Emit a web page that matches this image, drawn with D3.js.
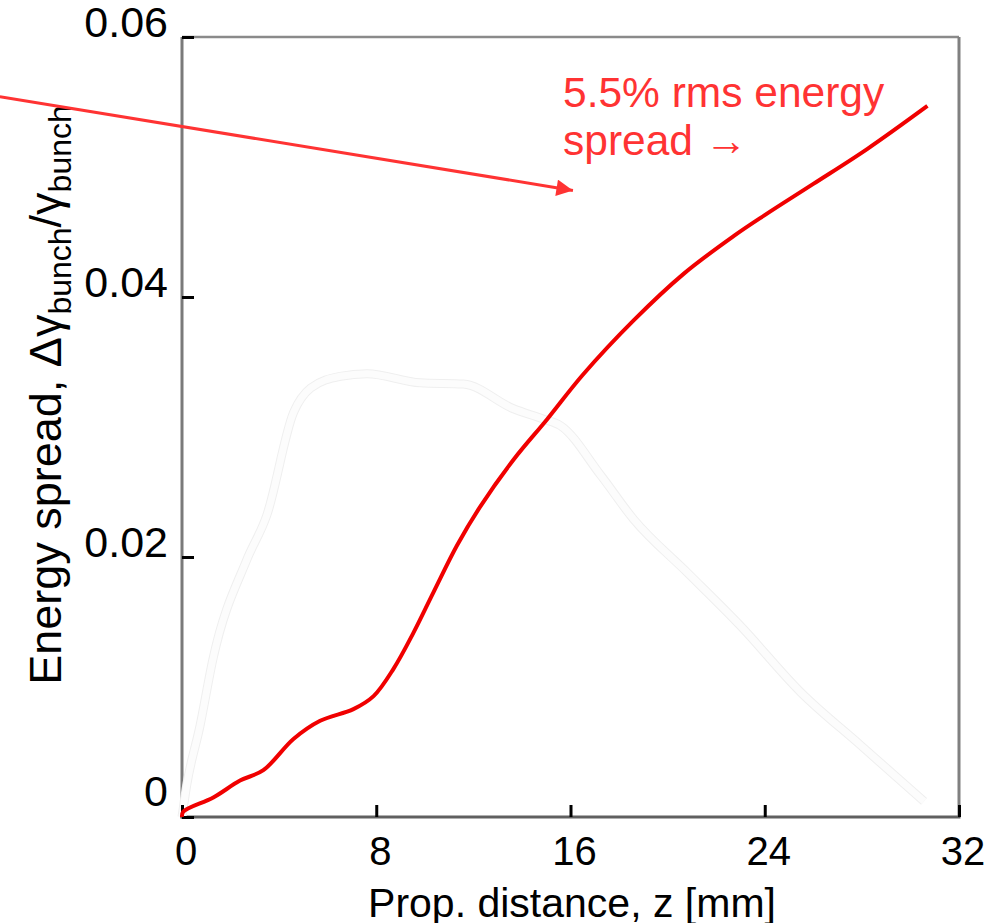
<!DOCTYPE html>
<html>
<head>
<meta charset="utf-8">
<script src="https://cdn.jsdelivr.net/npm/d3@7"></script>
<style>
  body { margin: 0; background: #fff; }
  text { font-family: "Liberation Sans", Arial, sans-serif; }
</style>
</head>
<body>
<div id="chart"></div>
<script>
var width = 986,
    height = 923;

// red curve: rms energy spread along the propagation distance
var zRed = [0, 0.05, 1.29, 2.39, 3.35, 4.59, 5.69, 7.06, 7.89, 8.71, 9.54, 10.36,
            11.33, 12.29, 13.66, 15.04, 16.5, 18.6, 20.67, 22.73, 24, 26, 28.23, 30.7];
var spreadRed = [0, 0.0004, 0.0015, 0.0028, 0.0036, 0.0060, 0.0074, 0.0083, 0.0093, 0.0114, 0.0142, 0.0173,
                 0.0209, 0.0239, 0.0275, 0.0306, 0.0340, 0.0382, 0.0418, 0.0447, 0.0463, 0.0487, 0.0514, 0.0547];

// faded curve in the background
var zGrey = [0, 0.19, 0.74, 1.28, 2.67, 3.49, 4.59, 5.3, 6.52, 7.62, 9.81, 11.59,
             13.65, 14.89, 15.59, 17.24, 18.6, 20.81, 23.0, 25.48, 27.96, 30.56];
var spreadGrey = [0, 0.0024, 0.0070, 0.0122, 0.0198, 0.0232, 0.0311, 0.0330, 0.0339, 0.0341, 0.0334, 0.0333,
                  0.0314, 0.0306, 0.0301, 0.0263, 0.0229, 0.0188, 0.0147, 0.0096, 0.0055, 0.0012];

var xTicks = [0, 8, 16, 24, 32];
var yTicks = [0, 0.02, 0.04, 0.06];
var yTickLabels = ["0", "0.02", "0.04", "0.06"];

var plotLeft = 182, plotRight = 959, plotTop = 37, plotBottom = 817;

var x = d3.scaleLinear().domain([0, 32]).range([plotLeft, plotRight]);
var y = d3.scaleLinear().domain([0, 0.06]).range([plotBottom, plotTop]);

var svg = d3.select("#chart")
    .append("svg")
    .attr("width", width)
    .attr("height", height);

svg.append("defs").append("marker")
    .attr("id", "head")
    .attr("viewBox", "0 0 10 10")
    .attr("refX", 10).attr("refY", 5)
    .attr("markerWidth", 6).attr("markerHeight", 5.5)
    .attr("markerUnits", "strokeWidth")
    .attr("orient", "auto")
    .append("path")
    .attr("d", "M0,0L10,5L0,10z")
    .style("fill", "#ff3333");

/** frame **/
svg.append("line").attr("x1", plotLeft).attr("x2", plotRight).attr("y1", plotTop).attr("y2", plotTop)
    .style("stroke", "#8a8a8a").style("stroke-width", 2.5);
svg.append("line").attr("x1", plotRight).attr("x2", plotRight).attr("y1", plotTop).attr("y2", plotBottom)
    .style("stroke", "#808080").style("stroke-width", 3);
svg.append("line").attr("x1", plotLeft).attr("x2", plotLeft).attr("y1", plotTop).attr("y2", plotBottom + 1.5)
    .style("stroke", "#7a7a7a").style("stroke-width", 3);
svg.append("line").attr("x1", plotLeft - 1.5).attr("x2", plotRight + 1.5).attr("y1", plotBottom).attr("y2", plotBottom)
    .style("stroke", "#606060").style("stroke-width", 3);

/** faded curve **/
var lineGrey = d3.line()
    .x(function(d, i) { return x(zGrey[i]); })
    .y(function(d) { return y(d); })
    .curve(d3.curveMonotoneX);

svg.append("path")
    .attr("d", lineGrey(spreadGrey))
    .style("fill", "none")
    .style("stroke", "#efefef")
    .style("stroke-width", 9)
    .style("stroke-linejoin", "round");
svg.append("path")
    .attr("d", lineGrey(spreadGrey))
    .style("fill", "none")
    .style("stroke", "#fcfcfc")
    .style("stroke-width", 7)
    .style("stroke-linejoin", "round");

/** ticks (inward) **/
var xAxis = d3.axisBottom(x).tickValues(xTicks).tickSize(-12).tickFormat("");
svg.append("g")
    .attr("transform", "translate(0," + plotBottom + ")")
    .call(xAxis)
    .call(function(g) {
        g.select(".domain").remove();
        g.selectAll(".tick line").style("stroke", "#000").style("stroke-width", 3);
    });

var yAxis = d3.axisLeft(y).tickValues(yTicks).tickSize(-12).tickFormat("");
svg.append("g")
    .attr("transform", "translate(" + plotLeft + ",0)")
    .call(yAxis)
    .call(function(g) {
        g.select(".domain").remove();
        g.selectAll(".tick line").style("stroke", "#000").style("stroke-width", 3);
    });

/** tick labels **/
svg.selectAll(".xlab")
    .data(xTicks)
    .enter().append("text")
    .attr("x", function(d) { return x(d) + 4; })
    .attr("y", 865)
    .attr("text-anchor", "middle")
    .style("font-size", "40px")
    .text(function(d) { return d; });

svg.selectAll(".ylab")
    .data(yTicks)
    .enter().append("text")
    .attr("x", 168)
    .attr("y", function(d) { return y(d) - (d === 0 ? 11 : 0); })
    .attr("text-anchor", "end")
    .style("font-size", "43px")
    .text(function(d, i) { return yTickLabels[i]; });

/** axis titles **/
svg.append("text")
    .attr("x", 572)
    .attr("y", 917)
    .attr("text-anchor", "middle")
    .style("font-size", "41px")
    .text("Prop. distance, z [mm]");

var yTitle = svg.append("text")
    .attr("transform", "translate(61,395) rotate(-90)")
    .attr("text-anchor", "middle")
    .style("font-size", "45px");
yTitle.append("tspan").text("Energy spread, \u0394\u03b3");
yTitle.append("tspan").attr("dy", 10).style("font-size", "32px").text("bunch");
yTitle.append("tspan").attr("dy", -10).text("/\u03b3");
yTitle.append("tspan").attr("dy", 10).style("font-size", "32px").text("bunch");

/** red curve **/
var lineRed = d3.line()
    .x(function(d, i) { return x(zRed[i]); })
    .y(function(d) { return y(d); })
    .curve(d3.curveCatmullRom.alpha(0.5));

svg.append("path")
    .attr("d", lineRed(spreadRed))
    .style("fill", "none")
    .style("stroke", "#f00000")
    .style("stroke-width", 4);

/** annotation **/
svg.append("line")
    .attr("x1", x(-7.5)).attr("y1", y(0.0554))
    .attr("x2", x(16.1)).attr("y2", y(0.0482))
    .attr("marker-end", "url(#head)")
    .style("stroke", "#ff3333")
    .style("stroke-width", 3);

var note = svg.append("text")
    .attr("x", 563)
    .attr("y", 107)
    .style("font-size", "42.5px")
    .style("fill", "#ff3333");
note.append("tspan").text("5.5% rms energy");
note.append("tspan").attr("x", 563).attr("dy", 48).text("spread \u2192");
</script>
</body>
</html>
